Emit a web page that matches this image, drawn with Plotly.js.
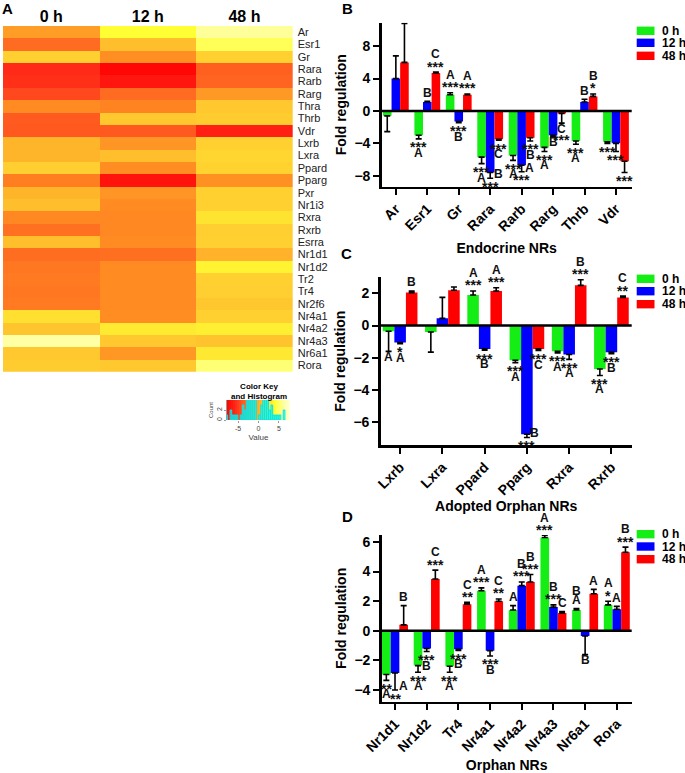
<!DOCTYPE html>
<html><head><meta charset="utf-8">
<script src="https://cdn.plot.ly/plotly-3.0.1.min.js"></script>
<style>html,body{margin:0;padding:0;background:#fff}</style>
</head><body><div id="chart" style="width:685px;height:773px"></div>
<script>
// ---------- Panel A: heatmap data ----------
const heatGenes = ['Ar','Esr1','Gr','Rara','Rarb','Rarg','Thra','Thrb','Vdr','Lxrb','Lxra','Ppard','Pparg','Pxr','Nr1i3','Rxra','Rxrb','Esrra','Nr1d1','Nr1d2','Tr2','Tr4','Nr2f6','Nr4a1','Nr4a2','Nr4a3','Nr6a1','Rora'];
const heatTimes = ['0 h','12 h','48 h'];
const heat0h  = [-0.6,-3.0, 2.0,-5.7,-5.5,-4.5,-1.5,-3.7,-3.8, 0.6, 0.6, 1.9,-2.1, 0.6, 1.1,-1.6,-2.7, 1.1,-2.9,-2.4,-2.3,-2.4,-2.3, 2.7, 1.4, 6.3, 1.6, 1.8];
const heat12h = [ 4.0, 1.1,-1.3,-7.6,-6.7,-3.0,-1.8, 1.6,-3.8,-1.0, 1.1,-1.4,-6.8,-1.0,-1.5,-1.6,-1.6,-1.5,-2.8,-1.5,-1.5,-1.5,-1.5,-1.4, 3.1, 1.6,-0.9, 1.6];
const heat48h = [ 6.0, 4.7, 2.0,-3.5,-3.3,-0.8, 1.6, 1.8,-6.2, 2.0, 2.2, 2.1,-1.2, 2.0, 2.0, 2.8, 1.9, 2.0, 0.4, 3.5, 2.0, 1.9, 1.5, 2.0, 3.3, 1.3, 3.0, 5.3];
const keyValues = [-7.5,-7,-6.5,-6,-5.5,-5,-4.5,-4,-3.5,-3,-2.5,-2,-1.5,-1,-0.5,0,0.5,1,1.5,2,2.5,3,3.5,4,4.5,5,5.5,6,6.5,7,7.5];

// ---------- Bar chart data ----------
const seriesNames = ['0 h','12 h','48 h'];

const endocrineGenes = ['Ar','Esr1','Gr','Rara','Rarb','Rarg','Thrb','Vdr'];
const endocrine0h  = [-0.6,-3.0, 2.0,-5.7,-5.5,-4.5,-3.7,-3.8];
const endocrine12h = [ 4.0, 1.1,-1.3,-7.6,-6.7,-3.0, 1.1,-4.0];
const endocrine48h = [ 6.0, 4.7, 2.0,-3.5,-3.3,-0.3, 1.8,-6.2];
const endocrineErr0h  = [1.95,0.45,0.25,0.8,0.6,0.5,0.4,0.2];
const endocrineErr12h = [2.8,0.1,0.15,0.7,0.8,0.2,0.35,1.0];
const endocrineErr48h = [4.8,0.1,0.1,0.1,0.4,1.2,0.3,1.4];
const endocrineSig0h  = ['','***|A','***|A','***|A','***|A','***|A','***|A','***'];
const endocrineSig12h = ['','B','***|B','>B|***','>A|***','B','B','***'];
const endocrineSig48h = ['','***|C','***|A','***|C','***|B','C|***','*|B','***'];

const adoptedGenes = ['Lxrb','Lxra','Ppard','Pparg','Rxra','Rxrb'];
const adopted0h  = [-0.35,-0.4, 1.9,-2.15,-1.6,-2.7];
const adopted12h = [-1.05, 0.45,-1.45,-6.75,-1.8,-1.65];
const adopted48h = [ 2.05, 2.2, 2.15,-1.45, 2.5, 1.75];
const adoptedErr0h  = [1.25,1.25,0.25,0.15,0.1,0.4];
const adoptedErr12h = [0.08,1.3,0.08,0.2,0.3,0.1];
const adoptedErr48h = [0.1,0.2,0.2,0.1,0.35,0.08];
const adoptedSig0h  = ['A','','***|A','***|A','***|A','***|A'];
const adoptedSig12h = ['*|A','','***|B','>B|***','***|A','***|B'];
const adoptedSig48h = ['B','','***|A','***|C','***|B','**|C'];

const orphanGenes = ['Nr1d1','Nr1d2','Tr4','Nr4a1','Nr4a2','Nr4a3','Nr6a1','Rora'];
const orphan0h  = [-2.95,-2.35,-2.4, 2.7, 1.4, 6.3, 1.4, 1.75];
const orphan12h = [-2.85,-1.2,-1.25,-1.35, 3.05, 1.6,-0.35, 1.45];
const orphan48h = [ 0.4, 3.5, 1.8, 2.0, 3.3, 1.2, 2.5, 5.3];
const orphanErr0h  = [0.4,0.45,0.4,0.2,0.3,0.15,0.1,0.25];
const orphanErr12h = [1.15,0.2,0.08,0.35,0.25,0.15,1.25,0.2];
const orphanErr48h = [1.3,0.6,0.12,0.15,0.5,0.1,0.3,0.35];
const orphanSig0h  = ['**|A','***|A','***|A','***|A','A','***|A','A|B','*|A'];
const orphanSig12h = ['>A|**','***|B','***|B','***|B','***|B','***|B','B','A'];
const orphanSig48h = ['B','***|C','**|C','**|C','***|B','C','A','***|B'];

// ---------- styling ----------
const FONT = 'Arial, "Liberation Sans", sans-serif';
const colors = ['#14EE14','#0000FF','#FF0000'];
const W = 685, H = 773;
const px = p => p / W;
const py = p => 1 - p / H;
const BARGAP = 0.18;

const heatScale = [
  [0.000,'#FF0000'],[0.125,'#FF2215'],[0.250,'#FF5520'],[0.375,'#FF8020'],
  [0.500,'#FFAA28'],[0.625,'#FFD030'],[0.750,'#FFFF33'],[0.875,'#FFFF99'],[1.000,'#FFFFE0']
];

const traces = [];
const annotations = [];
const shapes = [];

// Heatmap
traces.push({
  type:'heatmap', x: heatTimes, y: heatGenes,
  z: heatGenes.map((g,i)=>[heat0h[i], heat12h[i], heat48h[i]]),
  colorscale: heatScale, zmin:-8, zmax:8, showscale:false,
  xaxis:'x', yaxis:'y', hoverinfo:'skip'
});
// Color key gradient + histogram
traces.push({
  type:'heatmap', x: keyValues, y0: 2, dy: 4, z: [keyValues],
  colorscale: heatScale, zmin:-8, zmax:8, showscale:false,
  xaxis:'x2', yaxis:'y2', hoverinfo:'skip'
});
traces.push({
  type:'histogram', x: heat0h.concat(heat12h, heat48h),
  xbins:{start:-8, end:8, size:0.5},
  marker:{color:'rgba(0,255,255,0.55)', line:{color:'#00E8E8', width:1}},
  xaxis:'x2', yaxis:'y2', showlegend:false, hoverinfo:'skip'
});

function addPanel(genes, vals, errs, sigs, xa, ya) {
  const w = (1 - BARGAP) / 3;
  const offs = [-w, 0, w];
  for (let s = 0; s < 3; s++) {
    const v = vals[s], e = errs[s];
    traces.push({
      type:'bar', name: seriesNames[s], x: genes, y: v,
      marker:{color: colors[s], line:{width:0}},
      error_y:{type:'data', symmetric:false,
        array: v.map((val,i)=> val >= 0 ? e[i] : 0),
        arrayminus: v.map((val,i)=> val < 0 ? e[i] : 0),
        color:'#000', thickness:1.6, width:3},
      xaxis: xa, yaxis: ya, showlegend:false, hoverinfo:'skip'
    });
    sigs[s].forEach((lab, i) => {
      if (!lab) return;
      const dir = v[i] >= 0 ? 1 : -1;
      const end = v[i] + dir * e[i];
      let slot = 0;
      lab.split('|').forEach(line => {
        const isAst = line.indexOf('*') >= 0;
        const fsize = isAst ? 14 : 12;
        if (line.startsWith('>')) {
          annotations.push({xref:xa, yref:ya, x: i + offs[s], y: end, text: line.slice(1),
            showarrow:false, xanchor:'center', yanchor:'middle', xshift: 8, yshift: -dir*4,
            font:{family:FONT, size:fsize, color:'#111', weight:'bold'}});
          return;
        }
        const off = dir > 0 ? 8.5 + 9.3*slot : 5.5 + 8.5*slot;
        annotations.push({xref:xa, yref:ya, x: i + offs[s], y: end, text: line,
          showarrow:false, xanchor:'center', yanchor:'middle',
          yshift: dir*off - (isAst ? 3 : 0),
          font:{family:FONT, size:fsize, color:'#111', weight:'bold'}});
        slot++;
      });
    });
  }
  // zero line
  shapes.push({type:'line', xref: xa + ' domain', yref: ya, x0:0, x1:1, y0:0, y1:0,
    line:{color:'#000', width:2.5}, layer:'above'});
}

addPanel(endocrineGenes, [endocrine0h, endocrine12h, endocrine48h],
  [endocrineErr0h, endocrineErr12h, endocrineErr48h],
  [endocrineSig0h, endocrineSig12h, endocrineSig48h], 'x3', 'y3');
addPanel(adoptedGenes, [adopted0h, adopted12h, adopted48h],
  [adoptedErr0h, adoptedErr12h, adoptedErr48h],
  [adoptedSig0h, adoptedSig12h, adoptedSig48h], 'x4', 'y4');
addPanel(orphanGenes, [orphan0h, orphan12h, orphan48h],
  [orphanErr0h, orphanErr12h, orphanErr48h],
  [orphanSig0h, orphanSig12h, orphanSig48h], 'x5', 'y5');

// legends (drawn)
function addLegend(centers) {
  centers.forEach((c, s) => {
    shapes.push({type:'rect', xref:'paper', yref:'paper', x0: px(636.7), x1: px(654.5),
      y0: py(c + 4.2), y1: py(c - 4.2), fillcolor: colors[s], line:{width:0}});
    annotations.push({xref:'paper', yref:'paper', x: px(659.5), y: py(c), text: seriesNames[s],
      showarrow:false, xanchor:'left', yanchor:'middle',
      font:{family:FONT, size:12, color:'#000', weight:'bold'}});
  });
}
addLegend([30.8, 42.8, 55.8]);
addLegend([278.8, 291.2, 304.2]);
addLegend([534.2, 546.5, 559.2]);

// panel letters
[['A',8,8],['B',348,8],['C',346,254],['D',347,516]].forEach(([t,x,y]) => {
  annotations.push({xref:'paper', yref:'paper', x: px(x), y: py(y), text:t, showarrow:false,
    xanchor:'center', yanchor:'middle', font:{family:FONT, size:15, color:'#000', weight:'bold'}});
});
// color key title
annotations.push({xref:'paper', yref:'paper', x: px(259), y: py(391.5), text:'Color Key<br>and Histogram',
  showarrow:false, xanchor:'center', yanchor:'middle',
  font:{family:FONT, size:8, color:'#000', weight:'bold'}});

const boldTick = {family:FONT, size:14, color:'#000', weight:'bold'};
function barX(domain, range, title, standoff, anchor) {
  return {domain, range, anchor, type:'category', showline:true, linewidth:2.5, linecolor:'#000',
    ticks:'outside', ticklen:6, tickwidth:2, tickcolor:'#000', tickangle:-45,
    tickfont: boldTick, showgrid:false, zeroline:false, fixedrange:true,
    title:{text:title, font:{family:FONT, size:14, color:'#000', weight:'bold'}, standoff}};
}
function barY(domain, range, tickvals, anchor) {
  return {domain, range, anchor, showline:true, linewidth:2.5, linecolor:'#000',
    ticks:'outside', ticklen:6, tickwidth:2, tickcolor:'#000', tickvals,
    tickfont: boldTick, showgrid:false, zeroline:false,
    title:{text:'Fold regulation', font:{family:FONT, size:14, color:'#000', weight:'bold'}, standoff:5}};
}

const layout = {
  width: W, height: H, margin:{l:0, r:0, t:0, b:0},
  paper_bgcolor:'#fff', plot_bgcolor:'rgba(0,0,0,0)',
  showlegend:false, barmode:'group', bargap: BARGAP, bargroupgap: 0,
  font:{family:FONT},
  xaxis:{domain:[px(3), px(292.7)], anchor:'y', side:'top', ticks:'', showgrid:false, zeroline:false,
    tickfont:{family:FONT, size:16, color:'#000', weight:'bold'}, showline:false},
  yaxis:{domain:[py(371.7), py(26)], anchor:'x', side:'right', autorange:'reversed', ticks:'',
    tickmode:'array', tickvals: heatGenes, ticktext: heatGenes,
    showgrid:false, zeroline:false, tickfont:{family:FONT, size:11, color:'#222'}, ticklabelstandoff:4},
  xaxis2:{domain:[px(227), px(290)], anchor:'y2', range:[-7.7,7.7], tickvals:[-5,0,5],
    ticktext:['-5','0','5'], ticks:'outside', ticklen:2, tickwidth:0.6, tickcolor:'#555',
    tickfont:{family:FONT, size:7, color:'#444'}, showgrid:false, zeroline:false, showline:false,
    title:{text:'Value', font:{family:FONT, size:8, color:'#444'}, standoff:2}},
  yaxis2:{domain:[py(420), py(400)], anchor:'x2', range:[0,4], tickvals:[0,2],
    ticks:'outside', ticklen:2, tickwidth:0.6, tickcolor:'#555', showline:true, linewidth:0.6, linecolor:'#555',
    tickfont:{family:FONT, size:7, color:'#444'}, showgrid:false, zeroline:false, tickangle:-90,
    title:{text:'Count', font:{family:FONT, size:6, color:'#444'}, standoff:1}},
  xaxis3: barX([px(381.7), px(631.7)], [-0.45, 7.5], 'Endocrine NRs', 10, 'y3'),
  yaxis3: barY([py(186.7), py(22.7)], [-9.35, 10.9], [-8,-4,0,4,8], 'x3'),
  xaxis4: barX([px(380.7), px(631.7)], [-0.46, 5.48], 'Adopted Orphan NRs', 4, 'y4'),
  yaxis4: barY([py(445), py(277.3)], [-7.42, 3.0], [-6,-4,-2,0,2], 'x4'),
  xaxis5: barX([px(381.7), px(631.7)], [-0.42, 7.47], 'Orphan NRs', 14, 'y5'),
  yaxis5: barY([py(701.7), py(535)], [-4.79, 6.47], [-4,-2,0,2,4,6], 'x5'),
  annotations, shapes
};

Plotly.newPlot('chart', traces, layout, {staticPlot:true, displayModeBar:false});
</script>
</body></html>
